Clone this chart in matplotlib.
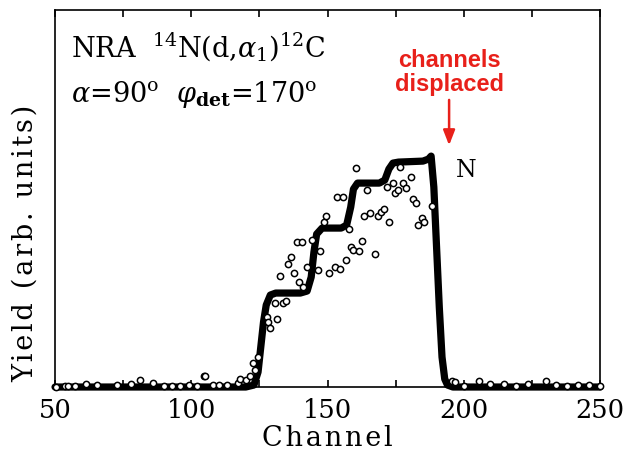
import matplotlib
matplotlib.use('Agg')
import matplotlib.pyplot as plt
import numpy as np

# ============================================================
# DATA (yield in arbitrary units)
# ============================================================
fit_channel = [50, 120, 123, 124.5, 125.5, 126.5, 127.5, 129, 131, 140, 142.5,
               144, 145, 146, 148, 155, 157, 158.5, 159.5, 161, 169, 171,
               172.5, 174, 176, 185, 187, 188, 189, 190, 191, 192, 193, 194,
               196, 250]
fit_yield = [0, 0, 2, 15, 40, 65, 82, 92, 94, 94, 96,
             110, 135, 153, 159, 159, 162, 180, 198, 204, 204, 207,
             218, 224, 225, 226, 228, 231, 200, 140, 80, 30, 8, 2,
             0, 0]

data_channel = [50.2, 53.7, 54.8, 57.3, 61.3, 65.5, 72.9, 77.7, 81.1, 86, 90,
                93, 96, 99, 102, 104.7, 105, 108, 110, 113, 117, 117.9, 120,
                121.6, 122.8, 123.4, 124.6, 127.7, 128.3, 128.9, 130.7, 131.3,
                132.6, 133.8, 134.8, 135.6, 136.5, 137.7, 138.7, 139.5, 140.5,
                140.9, 142.6, 144.2, 146.6, 147.2, 148.7, 149.4, 150.7, 152.8,
                153.4, 154.6, 155.5, 156.8, 157.9, 158.5, 159.5, 160.5, 161.6,
                162.7, 163.5, 164.6, 165.6, 167.4, 168.6, 169.6, 170.7, 171.7,
                172.7, 173.9, 174.8, 175.7, 176.6, 177.6, 178.7, 180.5, 181.2,
                182.5, 183.3, 184.5, 185.4, 188.3, 195.6, 196.9, 200, 205.5,
                209.5, 214.7, 219, 223.6, 230.3, 234, 238, 242, 246, 250]
data_yield = [0, 1, 1.5, 1, 3, 2, 2, 3, 7, 4, 1.5,
              1.5, 1.5, 2, 1.5, 11.3, 11, 2, 2, 2, 4, 8, 7,
              11, 24, 17, 30, 70, 65, 59, 83.7, 67.7,
              111, 83.7, 86, 123, 129.7, 113.7, 145, 104.7, 145,
              100, 120.3, 147, 117, 136, 165.3, 171, 114.3, 120.3,
              190.3, 117.7, 190.3, 127, 157.7, 139.7, 137, 219, 136.3,
              146.3, 171, 197, 174.3, 133, 171, 175.3, 177.7, 200.3,
              165, 203.7, 193.7, 197, 219.7, 203.7, 199.3, 210.3, 187.7,
              184.3, 161.7, 169, 165, 181, 6.3, 5, 1, 6,
              3, 3, 1.5, 3, 6, 2, 1.5, 2, 2, 1]

x_major = [50, 100, 150, 200, 250]
x_minor = [75, 125, 175, 225]


def spaced(s):
    # letter-spaced label, like the typeset original
    return '\u200a'.join(s)


# ============================================================
# FIGURE
# ============================================================
fig = plt.figure(figsize=(6.31, 4.62), dpi=100)
ax = fig.add_axes([0.0872, 0.1623, 0.8638, 0.8157])

ax.plot(fit_channel, fit_yield, color='black', lw=5.2,
        solid_capstyle='round', solid_joinstyle='round', clip_on=False, zorder=2)
ax.plot(data_channel, data_yield, ls='none', marker='o', ms=4.5, mew=1.1,
        mec='black', mfc='white', clip_on=False, zorder=3)

ax.set_xlim(50, 250)
ax.set_ylim(0, 377)
ax.set_xticks(x_major)
ax.set_xticks(x_minor, minor=True)
ax.set_yticks([])
ax.tick_params(axis='x', which='both', direction='in', top=True, length=5,
               width=1.2, pad=8, labelsize=18.5)
for lab in ax.get_xticklabels():
    lab.set_family('DejaVu Serif')
for sp in ax.spines.values():
    sp.set_linewidth(1.2)

ax.set_xlabel(spaced('Channel'), family='DejaVu Serif', fontsize=19.5,
              labelpad=1)
ax.set_ylabel(spaced('Yield (arb. units)'), family='DejaVu Serif', fontsize=19.5)
ax.yaxis.set_label_coords(-0.03, 0.38)

plt.rcParams['mathtext.fontset'] = 'dejavuserif'
ax.text(56, 330, r'NRA  $^{\mathrm{14}}$N(d,$\alpha_{\mathrm{1}}$)$^{\mathrm{12}}$C',
        family='DejaVu Serif', fontsize=19.5, va='baseline', ha='left')
ax.text(56, 285, r'$\alpha$=90$^{\mathrm{o}}$  $\varphi_{\mathbf{det}}$=170$^{\mathrm{o}}$',
        family='DejaVu Serif', fontsize=19.5, va='baseline', ha='left')

ax.text(201, 217, 'N', family='DejaVu Serif', fontsize=17,
        ha='center', va='center')

ax.text(194.6, 315, 'channels\ndisplaced', color='#e8201a',
        family='Liberation Sans', fontweight='bold', fontsize=17,
        ha='center', va='center', linespacing=1.05)
ax.annotate('', xy=(194.6, 239), xytext=(194.6, 290),
            arrowprops=dict(arrowstyle='-|>,head_width=0.35,head_length=0.9',
                            color='#e8201a', lw=1.8))

plt.savefig('out.png', dpi=100)
